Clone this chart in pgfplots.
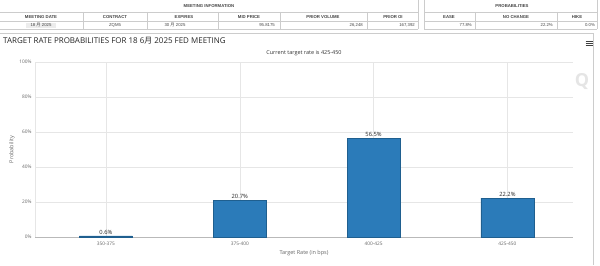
\documentclass[border=0pt]{standalone}
\usepackage{fontspec}
\setmainfont{Open Sans}
\newfontfamily\cjk{Noto Sans CJK SC}
\newfontfamily\tabfont{Liberation Sans}
\usepackage{pgfplots}
\pgfplotsset{compat=1.18}
\definecolor{barblue}{HTML}{2B7BB9}
\definecolor{baredge}{HTML}{1F5F8F}
\definecolor{gridc}{HTML}{E6E6E6}
\definecolor{labc}{HTML}{666666}
\definecolor{tabline}{HTML}{CCCCCC}
\definecolor{tabtext}{HTML}{444444}
\begin{document}
\begin{tikzpicture}[x=1bp,y=1bp]
\useasboundingbox (0,0) rectangle (600,265);
\fill[white] (0,0) rectangle (600,265);
% ---- table (y = 265 - py) ----
\begin{scope}[draw=tabline, line width=0.5bp]
\foreach \py in {12,21,29}{
  \draw (0,265-\py) -- (418,265-\py);
  \draw (424,265-\py) -- (597,265-\py);
}
\foreach \px in {418,424,597}{ \draw (\px,265) -- (\px,265-29); }
\foreach \px in {83,147,218,280,367,475,557}{ \draw (\px,265-12) -- (\px,265-29); }
\end{scope}
\begin{scope}[every node/.style={font=\tabfont\fontsize{4.3}{5}\selectfont, text=tabtext, inner sep=0pt}]
\node[font=\tabfont\bfseries\fontsize{4.3}{5}\selectfont] at (209,265-6) {MEETING INFORMATION};
\node[font=\tabfont\bfseries\fontsize{4.3}{5}\selectfont] at (512,265-6) {PROBABILITIES};
\foreach \cx/\t in {41/MEETING DATE,115/CONTRACT,184/EXPIRES,249/MID PRICE,323/PRIOR VOLUME,393/PRIOR OI,449/EASE,516/NO CHANGE,577/HIKE}{
  \node[font=\tabfont\bfseries\fontsize{4.3}{5}\selectfont] at (\cx,265-16.7) {\t};
}
\fill[gray!15] (26,265-22.5) rectangle (56,265-27.5);
\node at (41,265-25) {18 {\cjk 月} 2025};
\node at (115,265-25) {ZQM5};
\node at (175,265-25) {30 {\cjk 月} 2025};
\node[anchor=east] at (275,265-25) {95.8175};
\node[anchor=east] at (363,265-25) {26,248};
\node[anchor=east] at (415,265-25) {167,392};
\node[anchor=east] at (472,265-25) {77.8\%};
\node[anchor=east] at (553,265-25) {22.2\%};
\node[anchor=east] at (595,265-25) {0.0\%};
\end{scope}
% ---- chart container ----
\draw[tabline, line width=0.5bp] (0,265-33) -- (593,265-33) -- (593,0);
% hamburger menu
\foreach \dy in {-2,0,2}{ \draw[black!75, line width=0.9bp] (585.5,265-43+\dy) -- (592.5,265-43+\dy); }
% watermark
\node[text=gray!20, font=\bfseries\fontsize{18}{18}\selectfont] at (582,265-82) {Q};
% title & subtitle
\node[anchor=west, inner sep=0pt, text=black!85, font=\fontsize{8}{10}\selectfont] at (3,265-41) {TARGET RATE PROBABILITIES FOR 18 6{\cjk 月} 2025 FED MEETING};
\node[inner sep=0pt, text=black!80, font=\fontsize{5.5}{6}\selectfont] at (304,265-53) {Current target rate is 425-450};
% ---- axis ----
\begin{axis}[
  at={(35bp,28bp)}, anchor=south west,
  scale only axis, width=538bp, height=175bp,
  xmin=-0.53, xmax=3.49, ymin=0, ymax=100,
  xtick={0,1,2,3},
  xticklabels={350-375,375-400,400-425,425-450},
  ytick={0,20,40,60,80,100},
  yticklabel={\pgfmathprintnumber{\tick}\%},
  /pgf/number format/assume math mode=true,
  xmajorgrids, ymajorgrids,
  grid style={gridc, line width=0.5bp},
  axis x line*=bottom, axis y line*=left,
  x axis line style={-, draw=gray!55, line width=0.6bp},
  y axis line style={-, draw=gridc, line width=0.5bp},
  major tick length=0pt,
  tick style={draw=none},
  ticklabel style={font=\fontsize{4.8}{5}\selectfont, text=labc},
  xticklabel style={yshift=-1.5bp},
  xlabel={Target Rate (in bps)},
  ylabel={Probability},
  xlabel style={at={(axis description cs:0.5,-0.092)}, anchor=center, font=\fontsize{5.5}{6}\selectfont, text=labc},
  ylabel style={at={(axis description cs:-0.043,0.5)}, anchor=center, rotate=0, font=\fontsize{5.5}{6}\selectfont, text=labc},
  clip=false,
]
\addplot[ybar, bar width=53bp, fill=barblue, draw=baredge, line width=0.6bp,
  nodes near coords={\pgfmathprintnumber[fixed,fixed zerofill,precision=1]{\pgfplotspointmeta}\%},
  nodes near coords style={font=\fontsize{5.8}{6}\selectfont, text=black!85, inner sep=1.5bp}]
coordinates {(0,0.6) (1,20.7) (2,56.5) (3,22.2)};
\end{axis}
\end{tikzpicture}
\end{document}
